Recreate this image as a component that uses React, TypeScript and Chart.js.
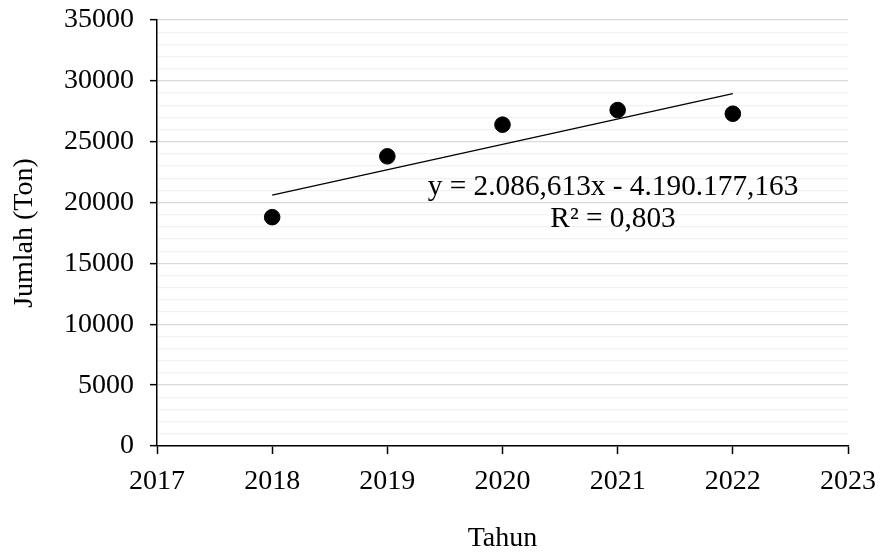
import React, { useEffect, useRef } from "react";
import { Chart, registerables } from "chart.js";

Chart.register(...registerables);

const YEARS = [2018, 2019, 2020, 2021, 2022];
const JUMLAH = [18800, 23800, 26400, 27600, 27300];
const TREND_YEARS = [2018, 2022];
const TREND_VALUES = [20608, 28954];
const EQUATION_LINES = ["y = 2.086,613x - 4.190.177,163", "R² = 0,803"];
const X_TITLE = "Tahun";
const Y_TITLE = "Jumlah (Ton)";

const FONT = "'Liberation Serif', 'Times New Roman', serif";

const eqPlugin = {
  id: "eqPlugin",
  afterDatasetsDraw(chart: any) {
    const { ctx, chartArea } = chart;
    const w = chartArea.right - chartArea.left;
    const h = chartArea.bottom - chartArea.top;
    const x = chartArea.left + 0.66 * w;
    ctx.save();
    ctx.font = `29.3px ${FONT}`;
    ctx.fillStyle = "#000";
    ctx.textAlign = "center";
    ctx.textBaseline = "alphabetic";
    ctx.fillText(EQUATION_LINES[0], x, chartArea.top + 0.411 * h);
    ctx.fillText(EQUATION_LINES[1], x, chartArea.top + 0.486 * h);
    ctx.restore();
  },
};

function zeroPad(scale: any) {
  scale.paddingTop = 0;
  scale.paddingBottom = 0;
  scale.paddingLeft = 0;
  scale.paddingRight = 0;
}

export default function App() {
  const ref = useRef<HTMLCanvasElement>(null);
  useEffect(() => {
    document.body.style.margin = "0";
    const canvas = ref.current!;
    const chart = new Chart(canvas, {
      type: "scatter",
      data: {
        datasets: [
          {
            label: "Trend",
            data: TREND_YEARS.map((x, i) => ({ x, y: TREND_VALUES[i] })),
            showLine: true,
            borderColor: "#000",
            borderWidth: 1.3,
            pointRadius: 0,
            fill: false,
          },
          {
            label: "Jumlah",
            data: YEARS.map((x, i) => ({ x, y: JUMLAH[i] })),
            backgroundColor: "#000",
            borderColor: "#000",
            pointRadius: 7.8,
            pointHoverRadius: 7.8,
            showLine: false,
          },
        ],
      },
      options: {
        responsive: false,
        animation: false,
        layout: { padding: { left: 0, top: 20, right: 33, bottom: 0 } },
        plugins: {
          legend: { display: false },
          tooltip: { enabled: false },
        },
        scales: {
          x: {
            type: "linear",
            min: 2017,
            max: 2023,
            ticks: {
              stepSize: 1,
              color: "#000",
              font: { family: FONT, size: 28 },
              padding: 11,
              callback: (v: any) => String(v),
            },
            grid: {
              color: "rgba(0,0,0,0)",
              tickColor: "#000",
              tickLength: 8,
              tickWidth: 1.5,
            },
            border: { color: "#000", width: 1.5 },
            title: {
              display: true,
              text: X_TITLE,
              color: "#000",
              font: { family: FONT, size: 28, lineHeight: 1 },
              padding: 0,
            },
            afterFit: (scale: any) => {
              scale.height = 107;
              zeroPad(scale);
            },
          },
          y: {
            type: "linear",
            min: 0,
            max: 35000,
            ticks: {
              stepSize: 1000,
              autoSkip: false,
              color: "#000",
              font: { family: FONT, size: 28 },
              padding: 16,
              callback: (v: any) => (Number(v) % 5000 === 0 ? String(v) : ""),
            },
            grid: {
              color: (c: any) =>
                c.tick && c.tick.value % 5000 === 0 ? "#d9d9d9" : "#f2f2f2",
              lineWidth: 1.3,
              tickColor: (c: any) =>
                c.tick && c.tick.value % 5000 === 0 ? "#000" : "rgba(0,0,0,0)",
              tickLength: 7,
              tickWidth: 1.5,
            },
            border: { color: "#000", width: 1.5 },
            title: {
              display: true,
              text: Y_TITLE,
              color: "#000",
              font: { family: FONT, size: 28, lineHeight: 1 },
              padding: { top: 11, bottom: 0 },
            },
            afterFit: (scale: any) => {
              scale.width = 157;
              zeroPad(scale);
            },
          },
        },
      },
      plugins: [eqPlugin],
    });
    return () => chart.destroy();
  }, []);
  return (
    <div style={{ position: "absolute", left: 0, top: 0, width: 881, height: 553 }}>
      <canvas ref={ref} width={881} height={553} />
    </div>
  );
}
